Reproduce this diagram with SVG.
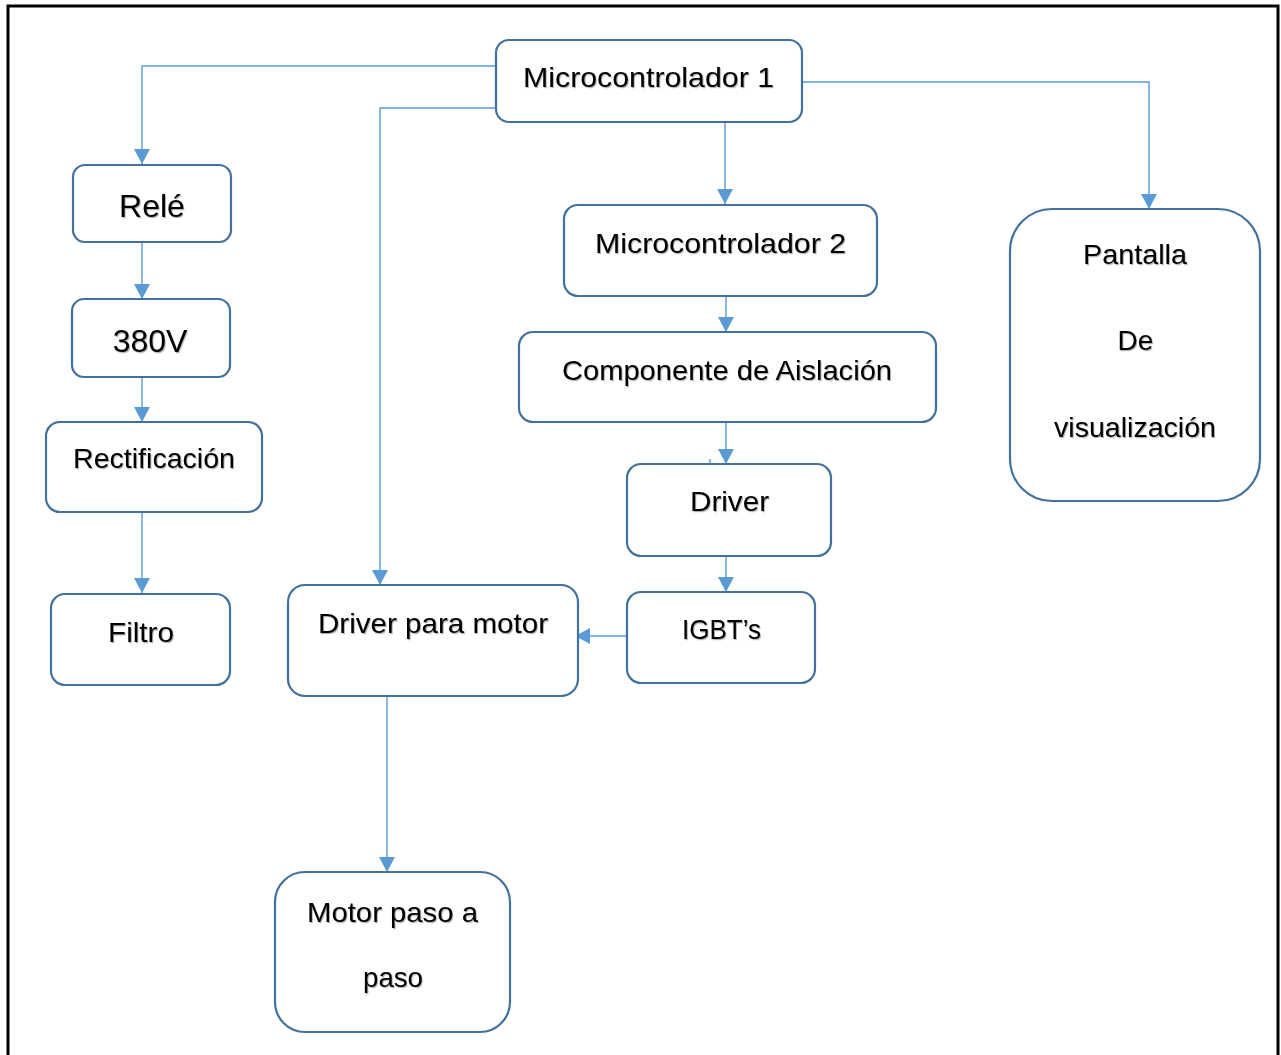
<svg xmlns="http://www.w3.org/2000/svg" width="1281" height="1055" viewBox="0 0 1281 1055">
<style>
.node rect{fill:#fff;stroke:#41719C;stroke-width:2.2}
.node text{font-family:"Liberation Sans",Arial,sans-serif;font-size:28px;fill:#000;text-anchor:middle;filter:url(#sh)}
.conn line,.conn polyline{fill:none;stroke:#5B9BD5;stroke-width:1.4}
</style>
<defs>
<marker id="ah" markerUnits="userSpaceOnUse" markerWidth="16" markerHeight="16" refX="15" refY="8" orient="auto">
<path d="M0,0 L15,8 L0,16 z" fill="#5B9BD5"/>
</marker>
<filter id="sh" x="-5%" y="-20%" width="110%" height="140%">
<feDropShadow dx="1" dy="1.2" stdDeviation="0.6" flood-color="#000" flood-opacity="0.3"/>
</filter>
</defs>
<rect x="0" y="0" width="1281" height="1055" fill="#fff"/>
<path d="M8,1060 V6 H1278 V1060" fill="none" stroke="#000" stroke-width="3"/>
<g class="conn" id="connectors">
<polyline points="496,66 142,66 142,164" marker-end="url(#ah)"/>
<polyline points="496,108 380,108 380,585" marker-end="url(#ah)"/>
<polyline points="802,82 1149,82 1149,209" marker-end="url(#ah)"/>
<line x1="725" y1="122" x2="725" y2="204" marker-end="url(#ah)"/>
<line x1="726" y1="296" x2="726" y2="332" marker-end="url(#ah)"/>
<line x1="726" y1="422" x2="726" y2="464" marker-end="url(#ah)"/>
<line x1="710" y1="459" x2="710" y2="464"/>
<line x1="726" y1="556" x2="726" y2="592" marker-end="url(#ah)"/>
<line x1="627" y1="636" x2="575" y2="636" marker-end="url(#ah)"/>
<line x1="387" y1="697" x2="387" y2="872" marker-end="url(#ah)"/>
<line x1="142" y1="242" x2="142" y2="299" marker-end="url(#ah)"/>
<line x1="142" y1="377" x2="142" y2="422" marker-end="url(#ah)"/>
<line x1="142" y1="512" x2="142" y2="593" marker-end="url(#ah)"/>
</g>
<g class="node" id="microcontrolador1"><rect x="496" y="40" width="306" height="82" rx="13"/><text x="648.5" y="87" textLength="251" lengthAdjust="spacingAndGlyphs">Microcontrolador 1</text></g>
<g class="node" id="rele"><rect x="73" y="165" width="158" height="77" rx="12"/><text x="152" y="217" style="font-size:32px">Relé</text></g>
<g class="node" id="v380"><rect x="72" y="299" width="158" height="78" rx="12"/><text x="150" y="352" style="font-size:32px">380V</text></g>
<g class="node" id="rectificacion"><rect x="46" y="422" width="216" height="90" rx="14"/><text x="154" y="468" textLength="162" lengthAdjust="spacingAndGlyphs">Rectificación</text></g>
<g class="node" id="filtro"><rect x="51" y="594" width="179" height="91" rx="14"/><text x="141" y="642" textLength="66" lengthAdjust="spacingAndGlyphs">Filtro</text></g>
<g class="node" id="microcontrolador2"><rect x="564" y="205" width="313" height="91" rx="14"/><text x="720.5" y="253" textLength="251" lengthAdjust="spacingAndGlyphs">Microcontrolador 2</text></g>
<g class="node" id="aislacion"><rect x="519" y="332" width="417" height="90" rx="14"/><text x="727" y="380" textLength="330" lengthAdjust="spacingAndGlyphs">Componente de Aislación</text></g>
<g class="node" id="driver"><rect x="627" y="464" width="204" height="92" rx="14"/><text x="729.5" y="511" textLength="79" lengthAdjust="spacingAndGlyphs">Driver</text></g>
<g class="node" id="igbts"><rect x="627" y="592" width="188" height="91" rx="14"/><text x="721.5" y="639" textLength="79" lengthAdjust="spacingAndGlyphs">IGBT’s</text></g>
<g class="node" id="driverMotor"><rect x="288" y="585" width="290" height="111" rx="17"/><text x="433" y="633" textLength="230" lengthAdjust="spacingAndGlyphs">Driver para motor</text></g>
<g class="node" id="motor"><rect x="275" y="872" width="235" height="160" rx="30"/><text x="392.5" y="922" textLength="171" lengthAdjust="spacingAndGlyphs">Motor paso a</text><text x="393" y="987" textLength="60" lengthAdjust="spacingAndGlyphs">paso</text></g>
<g class="node" id="pantalla"><rect x="1010" y="209" width="250" height="292" rx="42"/><text x="1135" y="264" textLength="104" lengthAdjust="spacingAndGlyphs">Pantalla</text><text x="1135.5" y="350">De</text><text x="1135" y="437" textLength="162" lengthAdjust="spacingAndGlyphs">visualización</text></g>
</svg>
